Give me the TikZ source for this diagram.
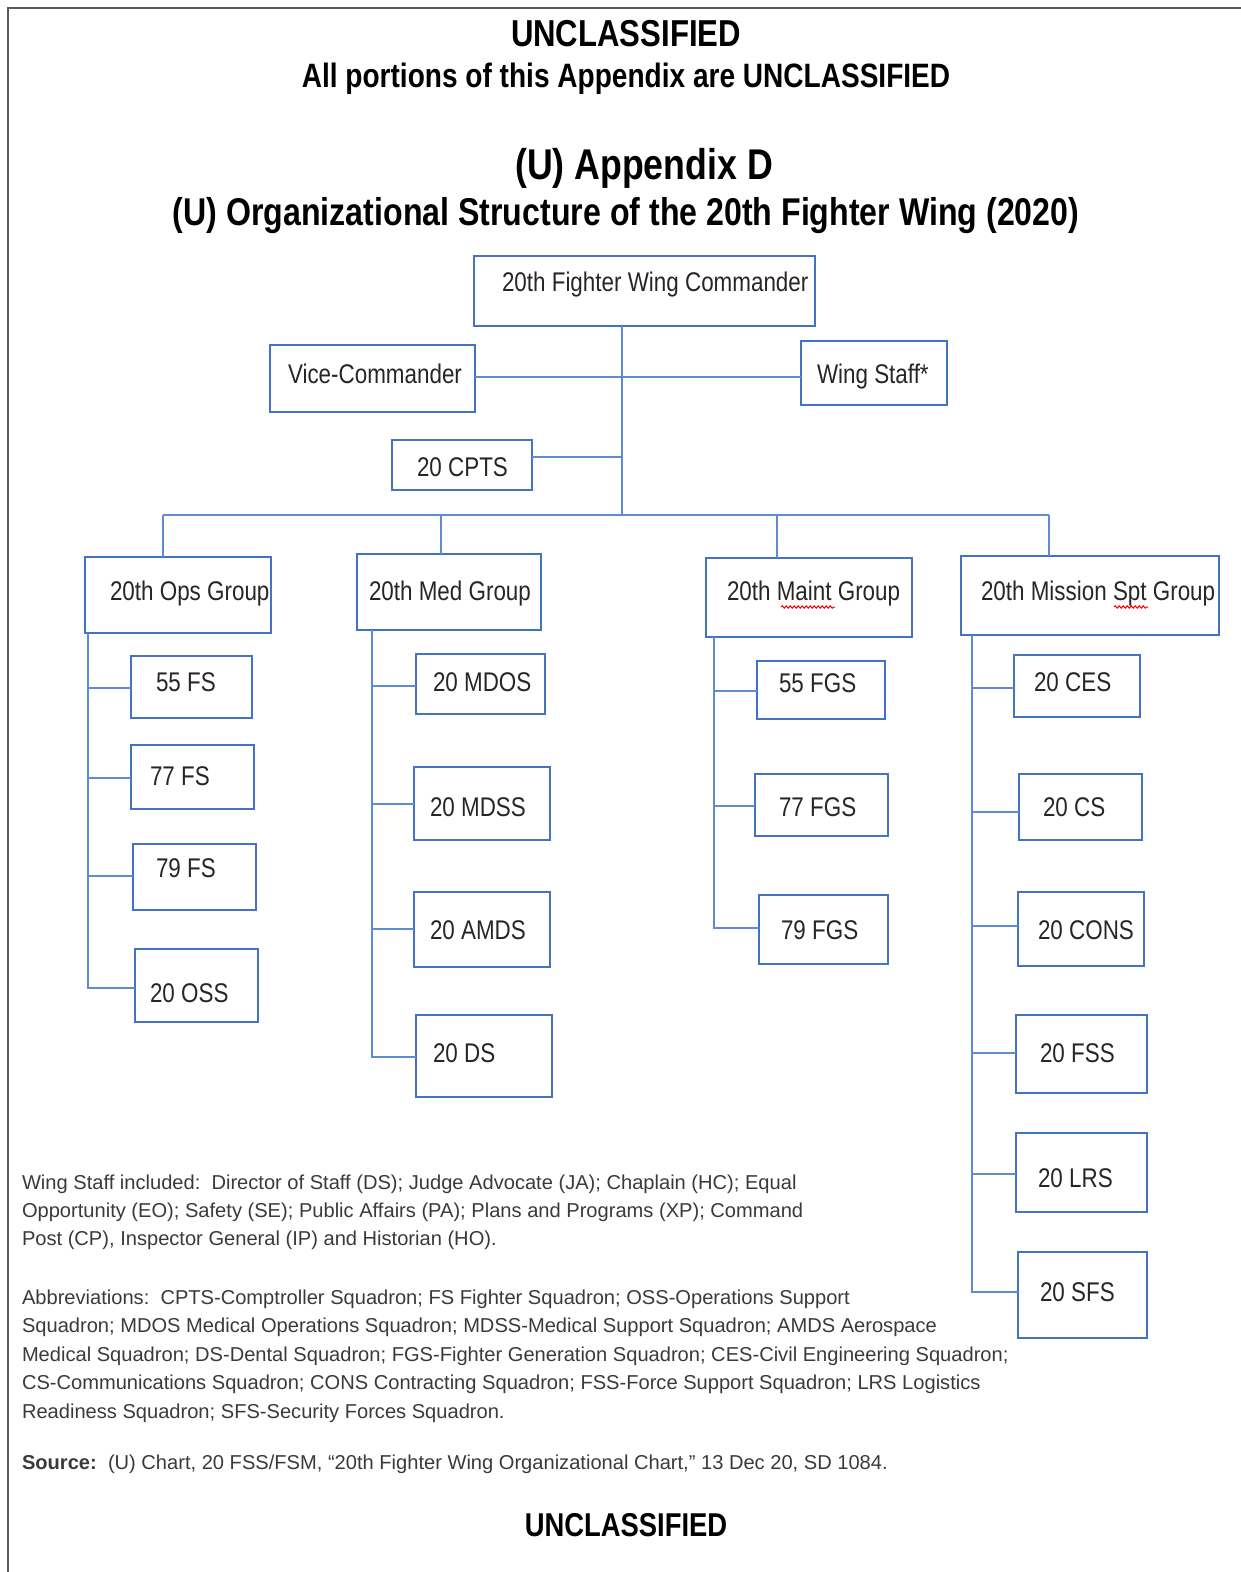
\documentclass[tikz,border=0pt]{standalone}
\usepackage{fontspec}
\setmainfont{Liberation Sans}[FakeStretch=0.83]
\newfontfamily\footfont{Liberation Sans}[Ligatures=TeX]
\usetikzlibrary{decorations.pathmorphing}
\definecolor{boxblue}{RGB}{68,114,196}
\definecolor{lineblue}{RGB}{95,138,212}
\definecolor{txtgray}{RGB}{38,38,38}
\definecolor{footgray}{RGB}{58,58,58}
\definecolor{bordergray}{RGB}{90,90,90}
\newcommand\bx[5]{\node[box, minimum width={(#4-#2)*1pt}, minimum height={(#5-#3)*1pt}] (#1) at ({(#2+#4)/2},{(#3+#5)/2}) {};}
\newcommand\tx[4]{\node[lbl] (#1) at (#2,#3) {#4};}
\newcommand\fl[3]{\node[footln] (#1) at (22,#2) {#3};}
\begin{document}
\begin{tikzpicture}[x=1pt,y=-1pt,
  box/.style={draw=boxblue, line width=1.8pt, rectangle, inner sep=0pt, outer sep=0pt},
  lbl/.style={inner sep=0pt, outer sep=0pt, anchor=base west, text=txtgray, font=\fontsize{27}{32}\selectfont},
  conn/.style={draw=lineblue, line width=2pt},
  ttl/.style={inner sep=0pt, outer sep=0pt, anchor=base, text=black},
  footln/.style={inner sep=0pt, outer sep=0pt, anchor=base west, text=footgray, font=\footfont\fontsize{20.1}{24}\selectfont},
  squig/.style={draw=red, line width=1pt, decorate, decoration={snake, amplitude=1.2pt, segment length=4pt}}]
\useasboundingbox (0,0) rectangle (1241,1572);
% border
\draw[bordergray, line width=2pt] (8,1572) -- (8,8) -- (1241,8);
% titles
\node[ttl, font=\bfseries\fontsize{37.5}{40}\selectfont] (unc1) at (626,46.5) {UNCLASSIFIED};
\node[ttl, font=\bfseries\fontsize{33.8}{38}\selectfont] (allp) at (626,87) {All portions of this Appendix are UNCLASSIFIED};
\node[ttl, font=\bfseries\fontsize{43}{46}\selectfont] (appd) at (644,179.5) {(U) Appendix D};
\node[ttl, font=\bfseries\fontsize{38.7}{42}\selectfont] (orgs) at (626,225.5) {(U) Organizational Structure of the 20th Fighter Wing (2020)};
% top level boxes
\bx{cmd}{474}{256}{815}{326}
\tx{tcmd}{502}{291}{20th Fighter Wing Commander}
\bx{vice}{270}{345}{475}{412}
\tx{tvice}{288}{383}{Vice-Commander}
\bx{wing}{801}{341}{947}{405}
\tx{twing}{817}{383}{Wing Staff*}
\bx{cpts}{392}{440}{532}{490}
\tx{tcpts}{417}{476}{20 CPTS}
% groups
\bx{ops}{85}{557}{271}{633}
\tx{tops}{110}{600}{20th Ops Group}
\bx{med}{357}{554}{541}{630}
\tx{tmed}{369}{600}{20th Med Group}
\bx{mnt}{706}{558}{912}{637}
\tx{tmnt}{727}{600}{20th Maint Group}
\bx{msg}{961}{556}{1219}{635}
\tx{tmsg}{981}{600}{20th Mission Spt Group}
\draw[squig] (781,607) -- (835,607);
\draw[squig] (1114,607) -- (1148,607);
% ops squadrons
\bx{fs55}{131}{656}{252}{718}  \tx{tfs55}{156}{691}{55 FS}
\bx{fs77}{131}{745}{254}{809}  \tx{tfs77}{150}{785}{77 FS}
\bx{fs79}{133}{844}{256}{910}  \tx{tfs79}{156}{877}{79 FS}
\bx{oss}{135}{949}{258}{1022}  \tx{toss}{150}{1002}{20 OSS}
% med squadrons
\bx{mdos}{416}{654}{545}{714}  \tx{tmdos}{433}{691}{20 MDOS}
\bx{mdss}{414}{767}{550}{840}  \tx{tmdss}{430}{816}{20 MDSS}
\bx{amds}{414}{892}{550}{967}  \tx{tamds}{430}{939}{20 AMDS}
\bx{ds}{416}{1015}{552}{1097}  \tx{tds}{433}{1062}{20 DS}
% maint squadrons
\bx{fgs55}{757}{661}{885}{719} \tx{tfgs55}{779}{692}{55 FGS}
\bx{fgs77}{755}{774}{888}{836} \tx{tfgs77}{779}{816}{77 FGS}
\bx{fgs79}{759}{895}{888}{964} \tx{tfgs79}{781}{939}{79 FGS}
% mission support squadrons
\bx{ces}{1014}{655}{1140}{717}   \tx{tces}{1034}{691}{20 CES}
\bx{cs}{1019}{774}{1142}{840}    \tx{tcs}{1043}{816}{20 CS}
\bx{cons}{1018}{892}{1144}{966}  \tx{tcons}{1038}{939}{20 CONS}
\bx{fss}{1016}{1015}{1147}{1093} \tx{tfss}{1040}{1062}{20 FSS}
\bx{lrs}{1016}{1133}{1147}{1212} \tx{tlrs}{1038}{1187}{20 LRS}
\bx{sfs}{1018}{1252}{1147}{1338} \tx{tsfs}{1040}{1301}{20 SFS}
% connectors, top
\coordinate (bus) at (622,515);
\coordinate (vw) at (622,377);
\coordinate (cp) at (622,457);
\draw[conn] (bus |- cmd.south) -- (bus);
\draw[conn] (vw -| vice.east) -- (vw -| wing.west);
\draw[conn] (cp -| cpts.east) -- (cp);
\coordinate (bo) at (163,515);
\coordinate (bm) at (441,515);
\coordinate (bn) at (777,515);
\coordinate (bs) at (1049,515);
\draw[conn] (bo) -- (bs);
\draw[conn] (bo) -- (bo |- ops.north);
\draw[conn] (bm) -- (bm |- med.north);
\draw[conn] (bn) -- (bn |- mnt.north);
\draw[conn] (bs) -- (bs |- msg.north);
% ops branch
\coordinate (ov) at (88,988);
\draw[conn] (ov |- ops.south) -- (ov) -- (ov -| oss.west);
\coordinate (o1) at (88,688); \draw[conn] (o1) -- (o1 -| fs55.west);
\coordinate (o2) at (88,778); \draw[conn] (o2) -- (o2 -| fs77.west);
\coordinate (o3) at (88,876); \draw[conn] (o3) -- (o3 -| fs79.west);
% med branch
\coordinate (mv) at (372,1057);
\draw[conn] (mv |- med.south) -- (mv) -- (mv -| ds.west);
\coordinate (m1) at (372,686); \draw[conn] (m1) -- (m1 -| mdos.west);
\coordinate (m2) at (372,804); \draw[conn] (m2) -- (m2 -| mdss.west);
\coordinate (m3) at (372,929); \draw[conn] (m3) -- (m3 -| amds.west);
% maint branch
\coordinate (nv) at (714,928);
\draw[conn] (nv |- mnt.south) -- (nv) -- (nv -| fgs79.west);
\coordinate (n1) at (714,691); \draw[conn] (n1) -- (n1 -| fgs55.west);
\coordinate (n2) at (714,806); \draw[conn] (n2) -- (n2 -| fgs77.west);
% mission support branch
\coordinate (sv) at (972,1292);
\draw[conn] (sv |- msg.south) -- (sv) -- (sv -| sfs.west);
\coordinate (s1) at (972,688);  \draw[conn] (s1) -- (s1 -| ces.west);
\coordinate (s2) at (972,812);  \draw[conn] (s2) -- (s2 -| cs.west);
\coordinate (s3) at (972,926);  \draw[conn] (s3) -- (s3 -| cons.west);
\coordinate (s4) at (972,1053); \draw[conn] (s4) -- (s4 -| fss.west);
\coordinate (s5) at (972,1174); \draw[conn] (s5) -- (s5 -| lrs.west);
% footnotes
\fl{w1}{1189}{Wing Staff included:\ \ Director of Staff (DS); Judge Advocate (JA); Chaplain (HC); Equal}
\fl{w2}{1217}{Opportunity (EO); Safety (SE); Public Affairs (PA); Plans and Programs (XP); Command}
\fl{w3}{1245}{Post (CP), Inspector General (IP) and Historian (HO).}
\fl{a1}{1304}{Abbreviations:\ \ CPTS-Comptroller Squadron; FS Fighter Squadron; OSS-Operations Support}
\fl{a2}{1332}{Squadron; MDOS Medical Operations Squadron; MDSS-Medical Support Squadron; AMDS Aerospace}
\fl{a3}{1361}{Medical Squadron; DS-Dental Squadron; FGS-Fighter Generation Squadron; CES-Civil Engineering Squadron;}
\fl{a4}{1389}{CS-Communications Squadron; CONS Contracting Squadron; FSS-Force Support Squadron; LRS Logistics}
\fl{a5}{1418}{Readiness Squadron; SFS-Security Forces Squadron.}
\fl{src}{1469}{\textbf{Source:}\ \ (U) Chart, 20 FSS/FSM, “20th Fighter Wing Organizational Chart,” 13 Dec 20, SD 1084.}
\node[ttl, font=\bfseries\fontsize{33}{36}\selectfont] (unc2) at (626,1536) {UNCLASSIFIED};
\end{tikzpicture}
\end{document}
